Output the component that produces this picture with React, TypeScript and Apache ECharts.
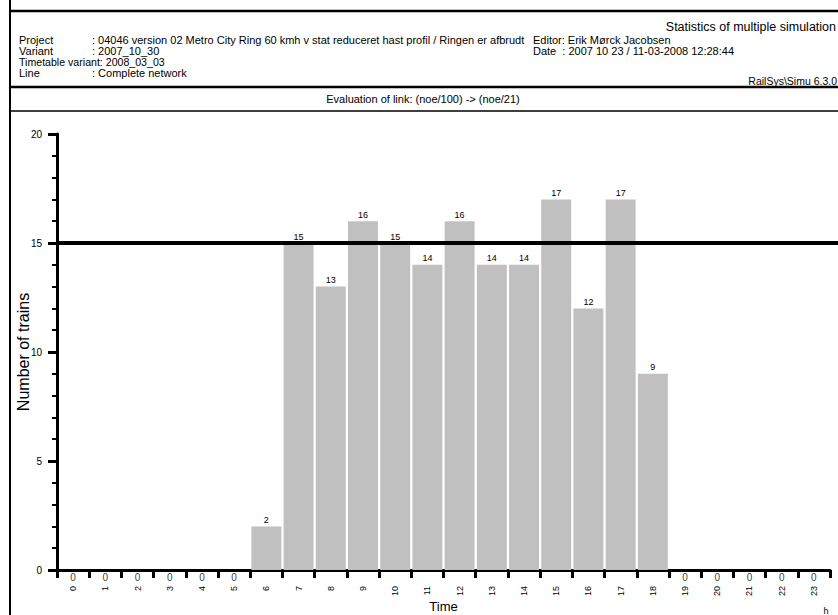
import React, { useEffect, useRef } from "react";
import * as echarts from "echarts";

const hours = ["0","1","2","3","4","5","6","7","8","9","10","11","12","13","14","15","16","17","18","19","20","21","22","23"];
const trains = [0,0,0,0,0,0,2,15,13,16,15,14,16,14,14,17,12,17,9,0,0,0,0,0];
const limit = 15;
const yTicks = { min: 0, max: 20, interval: 5 };

const headerLeft = [
  ["Project", ": 04046 version 02 Metro City Ring 60 kmh v stat reduceret hast profil / Ringen er afbrudt"],
  ["Variant", ": 2007_10_30"],
  ["Timetable variant: 2008_03_03", ""],
  ["Line", ": Complete network"],
];
const editorLines = ["Editor: Erik Mørck Jacobsen", "Date  : 2007 10 23 / 11-03-2008 12:28:44"];
const title = "Statistics of multiple simulation";
const version = "RailSys\\Simu 6.3.0";
const subtitle = "Evaluation of link: (noe/100) -> (noe/21)";

const FONT = "Liberation Sans, Arial, sans-serif";

export default function App() {
  const ref = useRef<HTMLDivElement>(null);
  useEffect(() => {
    if (!ref.current) return;
    const chart = echarts.init(ref.current, undefined, { renderer: "svg" });
    const headerGraphics: any[] = [];
    headerLeft.forEach((row, i) => {
      headerGraphics.push({ type: "text", x: 19, y: 40 + i * 11, style: { text: row[0], font: `${row[1] ? 11 : 10.6}px ${FONT}`, fill: "#000", verticalAlign: "middle" } });
      if (row[1]) headerGraphics.push({ type: "text", x: 92, y: 40 + i * 11, style: { text: row[1], font: `11px ${FONT}`, fill: "#000", verticalAlign: "middle" } });
    });
    editorLines.forEach((t, i) => {
      headerGraphics.push({ type: "text", x: 533, y: 40 + i * 11, style: { text: t, font: `11px ${FONT}`, fill: "#000", verticalAlign: "middle" } });
    });
    headerGraphics.push({ type: "text", x: 836, y: 27, style: { text: title, font: `12.5px ${FONT}`, fill: "#000", align: "right", verticalAlign: "middle" } });
    headerGraphics.push({ type: "text", x: 837, y: 81, style: { text: version, font: `10.5px ${FONT}`, fill: "#000", align: "right", verticalAlign: "middle" } });
    headerGraphics.push({ type: "text", x: 423, y: 99, style: { text: subtitle, font: `11px ${FONT}`, fill: "#000", align: "center", verticalAlign: "middle" } });
    headerGraphics.push({ type: "text", x: 826, y: 611, style: { text: "h", font: `9px ${FONT}`, fill: "#000", align: "center", verticalAlign: "middle" } });
    // frame lines
    headerGraphics.push({ type: "line", shape: { x1: 10, y1: 0, x2: 10, y2: 615 }, style: { stroke: "#000", lineWidth: 2 } });
    headerGraphics.push({ type: "line", shape: { x1: 9, y1: 11, x2: 838, y2: 11 }, style: { stroke: "#000", lineWidth: 2.5 } });
    headerGraphics.push({ type: "line", shape: { x1: 9, y1: 87, x2: 838, y2: 87 }, style: { stroke: "#000", lineWidth: 2.5 } });
    headerGraphics.push({ type: "line", shape: { x1: 9, y1: 111, x2: 838, y2: 111 }, style: { stroke: "#000", lineWidth: 1.5 } });

    const barData = trains.map((v) => ({
      value: v,
      label: { show: v !== 0 },
    }));
    const zeroData = trains.map((v, i) => (v === 0 ? [hours[i], v] : null)).filter((d) => d !== null);

    chart.setOption({
      animation: false,
      grid: { left: 57, top: 134, right: 8, bottom: 45, containLabel: false, outerBoundsMode: "none" },
      xAxis: {
        type: "category",
        data: hours,
        name: "Time",
        nameLocation: "middle",
        nameGap: 30,
        nameMoveOverlap: false,
        nameTextStyle: { fontFamily: FONT, fontSize: 13, color: "#000" },
        axisLine: { lineStyle: { color: "#000", width: 3 } },
        axisTick: { show: true, length: 8, lineStyle: { color: "#000", width: 3 } },
        axisLabel: { rotate: 90, fontFamily: FONT, fontSize: 9, color: "#000", margin: 16 },
        splitLine: { show: false },
      },
      yAxis: {
        type: "value",
        min: yTicks.min,
        max: yTicks.max,
        interval: yTicks.interval,
        name: "Number of trains",
        nameLocation: "middle",
        nameGap: 26,
        nameMoveOverlap: false,
        nameTextStyle: { fontFamily: FONT, fontSize: 16, color: "#000" },
        axisLine: { show: true, lineStyle: { color: "#000", width: 3 } },
        axisTick: { show: true, length: 9, lineStyle: { color: "#000", width: 3 } },
        minorTick: { show: true, splitNumber: 5, length: 5, lineStyle: { color: "#000", width: 2 } },
        axisLabel: { fontFamily: FONT, fontSize: 10, color: "#000", margin: 15 },
        splitLine: { show: false },
      },
      series: [
        {
          type: "bar",
          data: barData,
          barCategoryGap: "7%",
          itemStyle: { color: "#C0C0C0" },
          label: { show: true, position: "top", distance: 2, fontFamily: FONT, fontSize: 9, color: "#000" },
        },
        {
          type: "scatter",
          data: zeroData,
          symbolSize: 1,
          itemStyle: { color: "rgba(0,0,0,0)" },
          silent: true,
          z: 5,
          label: { show: true, position: "bottom", distance: 2, fontFamily: FONT, fontSize: 10, color: "#000", formatter: (p: any) => String(p.value[1]) },
        },
      ],
      graphic: headerGraphics,
    });

    const y15 = chart.convertToPixel({ yAxisIndex: 0 }, limit) as number;
    const x0 = chart.convertToPixel({ xAxisIndex: 0 }, 0) as number;
    const x1 = chart.convertToPixel({ xAxisIndex: 0 }, 1) as number;
    const halfBand = (x1 - x0) / 2;
    chart.setOption({
      graphic: [
        ...headerGraphics,
        { type: "line", z: 100, shape: { x1: x0 - halfBand, y1: y15, x2: 838, y2: y15 }, style: { stroke: "#000", lineWidth: 4 } },
      ],
    });
    return () => chart.dispose();
  }, []);
  return <div ref={ref} style={{ position: "fixed", left: 0, top: 0, width: 838, height: 615, background: "#fff" }} />;
}
